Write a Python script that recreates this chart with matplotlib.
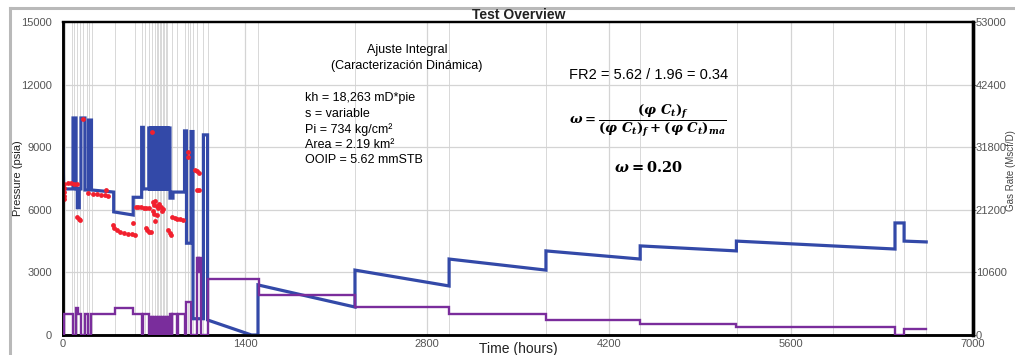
import matplotlib
matplotlib.use("Agg")
import matplotlib.pyplot as plt
from matplotlib.lines import Line2D

plt.rcParams['font.family'] = ['Liberation Sans', 'DejaVu Sans']
plt.rcParams['mathtext.fontset'] = 'custom'
plt.rcParams['mathtext.rm'] = 'DejaVu Serif:bold'
plt.rcParams['mathtext.it'] = 'DejaVu Serif:italic:bold'
plt.rcParams['mathtext.bf'] = 'DejaVu Serif:bold'

# ---- data -------------------------------------------------------------
# Pressure history: (time h, pressure psia)
pressure = [
    (0, 8950), (5, 7000), (77, 7000), (77, 10400), (100, 10400), (100, 7000),
    (110, 7000), (110, 6100), (125, 6100), (125, 7000), (138, 7000), (138, 10400),
    (169, 10400), (169, 6950), (196, 6950), (196, 10300), (219, 10300), (219, 6950),
    (390, 6850), (390, 5900), (540, 5750), (540, 6600), (605, 6600), (605, 9950),
    (618, 9950), (618, 7000), (660, 7000),
    (660, 9920), (667, 9920), (667, 7000), (675, 7000), (675, 9920), (683, 9920),
    (683, 7000), (690, 7000), (690, 9920), (698, 9920), (698, 7000), (705, 7000),
    (705, 9920), (713, 9920), (713, 7000), (720, 7000), (720, 9920), (728, 9920),
    (728, 7000), (735, 7000), (735, 9920), (743, 9920), (743, 7000), (751, 7000),
    (751, 9920), (759, 9920), (759, 7000), (767, 7000), (767, 9920), (775, 9920),
    (775, 7000), (783, 7000), (783, 9920), (791, 9920), (791, 7000), (799, 7000),
    (799, 9920), (807, 9920), (807, 7000), (815, 7000), (815, 9920), (823, 9920),
    (823, 6560), (846, 6560), (846, 6850), (935, 6850), (935, 9780), (950, 9780),
    (950, 4400), (985, 4400), (985, 9750), (1000, 9750), (1000, 780), (1080, 780),
    (1080, 9590), (1112, 9590), (1112, 720), (1450, 0), (1500, 0), (1500, 2400),
    (2246, 1340), (2246, 3110), (2970, 2350), (2970, 3640), (3715, 3110),
    (3715, 4030), (4440, 3640), (4440, 4270), (5180, 4030), (5180, 4500),
    (6400, 4120), (6400, 5370), (6470, 5370), (6470, 4500), (6640, 4460),
]

# Rate history (right axis): (time h, rate)
rate = [
    (0, 0), (5, 0), (5, 3500), (77, 3500), (77, 0), (100, 0), (100, 4560),
    (115, 4560), (115, 3500), (138, 3500), (138, 0), (169, 0), (169, 3500),
    (196, 3500), (196, 0), (219, 0), (219, 3500), (400, 3500), (400, 4600),
    (540, 4600), (540, 3500), (605, 3500), (605, 0), (618, 0), (618, 3500),
    (660, 3500),
    (660, 0), (667, 0), (667, 3050), (675, 3050), (675, 0), (683, 0), (683, 3050),
    (690, 3050), (690, 0), (698, 0), (698, 3050), (705, 3050), (705, 0), (713, 0),
    (713, 3050), (720, 3050), (720, 0), (728, 0), (728, 3050), (735, 3050),
    (735, 0), (743, 0), (743, 3050), (751, 3050), (751, 0), (759, 0), (759, 3050),
    (767, 3050), (767, 0), (775, 0), (775, 3050), (783, 3050), (783, 0), (791, 0),
    (791, 3050), (799, 3050), (799, 0), (807, 0), (807, 3050), (815, 3050),
    (815, 0), (823, 0), (823, 3500),
    (838, 3500), (838, 0), (842, 0), (842, 3500), (877, 3500), (877, 0), (881, 0),
    (881, 3500), (935, 3500), (935, 0), (950, 0), (950, 5580), (985, 5580),
    (985, 0), (1030, 0), (1030, 13070), (1036, 13070), (1036, 10600),
    (1042, 10600), (1042, 13070), (1048, 13070), (1048, 10600), (1054, 10600),
    (1054, 13070), (1060, 13070), (1060, 0), (1112, 0), (1112, 9470),
    (1510, 9470), (1510, 6780), (2246, 6780), (2246, 4730), (2970, 4730),
    (2970, 3530), (3715, 3530), (3715, 2540), (4440, 2540), (4440, 1870),
    (5180, 1870), (5180, 1340), (6400, 1340), (6400, 0), (6470, 0), (6470, 1020),
    (6640, 1020),
]

# Measured gauge pressures: (time h, pressure psia)
gauge = [
    (4, 7250), (6, 7050), (8, 6850), (9, 6650), (10, 6500), (40, 7280), (60, 7280),
    (85, 7260), (110, 7250), (110, 5650), (120, 5560), (130, 5500), (195, 6800),
    (230, 6780), (260, 6760), (290, 6720), (320, 6700), (345, 6650), (330, 6950),
    (385, 5250), (395, 5120), (415, 5030), (440, 4960), (470, 4900), (500, 4860),
    (530, 4830), (550, 4800), (540, 5370), (560, 6150), (580, 6130), (600, 6120),
    (620, 6100), (640, 6090), (660, 6100), (635, 5150), (645, 5050), (660, 4950),
    (680, 4940), (690, 6350), (700, 6250), (710, 6400), (720, 6200), (730, 6100),
    (740, 6300), (750, 6150), (760, 5950), (770, 6050), (700, 5800), (720, 5750),
    (690, 5950), (708, 5470), (810, 5050), (820, 4900), (830, 4800), (840, 5650),
    (860, 5600), (880, 5560), (900, 5540), (920, 5500), (960, 8770), (965, 8550),
    (1015, 7900), (1030, 7850), (1045, 7780), (1030, 6950), (1045, 6930),
    (155, 10350), (685, 9750),
]

# Flow-period change times (hours)
events = [15, 70, 85, 108, 130, 155, 185, 200, 223, 400, 555, 605, 630, 660, 685,
          708, 720, 732, 744, 756, 768, 780, 792, 803, 838, 877,
          938, 962, 977, 1000, 1030, 1077, 1115, 1500, 2246, 2970, 3715, 4440,
          5185, 5923, 6400, 6470, 6640]

x_ticks = [0, 1400, 2800, 4200, 5600, 7000]
p_ticks = [0, 3000, 6000, 9000, 12000, 15000]
q_ticks = [0, 10600, 21200, 31800, 42400, 53000]

pres_t, pres_p = zip(*pressure)
rate_t, rate_q = zip(*rate)
gauge_t, gauge_p = zip(*gauge)

# ---- figure -----------------------------------------------------------
fig = plt.figure(figsize=(10.15, 3.55), dpi=100)
ax = fig.add_axes([63 / 1015, 1 - 335 / 355, 910 / 1015, 313 / 355])
ax2 = ax.twinx()

ax.set_xlim(0, 7000)
ax.set_ylim(0, 15000)
ax2.set_ylim(0, 53000)

grid_c = '#d4d4d4'
for y in p_ticks[1:-1]:
    ax.axhline(y, color=grid_c, lw=0.9, zorder=0)
for x in x_ticks[1:-1]:
    ax.axvline(x, color=grid_c, lw=0.9, zorder=0)
for x in events:
    ax.axvline(x, color='#d2d2d2', lw=0.6, zorder=0)

ax.plot(pres_t, pres_p, color='#3349a8', lw=2.3, solid_joinstyle='miter', zorder=3)
ax.scatter(gauge_t, gauge_p, s=12, color='#f2202e', lw=0, zorder=4)
ax2.plot(rate_t, rate_q, color='#7a2d9c', lw=1.7, solid_joinstyle='miter', zorder=3)

tick_c = '#555555'
ax.set_xticks(x_ticks)
ax.set_yticks(p_ticks)
ax2.set_yticks(q_ticks)
ax.tick_params(axis='x', length=0, pad=3, labelsize=8, labelcolor=tick_c)
ax.tick_params(axis='y', length=0, pad=8, labelsize=8, labelcolor=tick_c)
ax2.tick_params(axis='y', length=2, pad=0, labelsize=8, labelcolor=tick_c, color=tick_c)

for a in (ax, ax2):
    for s in a.spines.values():
        s.set_color('black')
    a.spines['left'].set_linewidth(1.8)
    a.spines['bottom'].set_linewidth(1.8)
    a.spines['top'].set_linewidth(1.6)
    a.spines['right'].set_linewidth(2.4)

ax.set_xlabel('Time (hours)', fontsize=10, color='#222222')
ax.xaxis.set_label_coords(0.5, -0.022)
ax.set_ylabel('Pressure (psia)', fontsize=8, color='#222222')
ax.yaxis.set_label_coords(-0.044, 0.5)
fig.text(1010.5 / 1015, 0.52, 'Gas Rate (Mscf/D)', rotation=90, fontsize=7,
         color='#444444', ha='center', va='center')

fig.text(519 / 1015, 1 - 15 / 355, 'Test Overview', fontsize=10, weight='bold',
         ha='center', va='center', color='#222222')

# outer frame
fig.add_artist(Line2D([10 / 1015, 1], [1 - 8 / 355] * 2, color='#b9b9b9', lw=2.2))
fig.add_artist(Line2D([10 / 1015] * 2, [0, 1 - 8 / 355], color='#b9b9b9', lw=2.2))


def px(x, y):
    return x / 1015, 1 - y / 355


fig.text(*px(407, 50), 'Ajuste Integral', fontsize=9, ha='center', va='center')
fig.text(*px(407, 66), '(Caracterización Dinámica)', fontsize=9, ha='center', va='center')
info = ['kh = 18,263 mD*pie', 's = variable', 'Pi = 734 kg/cm²',
        'Area = 2.19 km²', 'OOIP = 5.62 mmSTB']
for i, line in enumerate(info):
    fig.text(*px(305, 98 + i * 15.6), line, fontsize=9, ha='left', va='center')

fig.text(*px(649, 75), 'FR2 = 5.62 / 1.96 = 0.34', fontsize=10.5, ha='center',
         va='center')
fig.text(*px(648, 121),
         r'$\omega = \dfrac{(\varphi\ C_t)_f}{(\varphi\ C_t)_f+(\varphi\ C_t)_{ma}}$',
         fontsize=9.5, ha='center', va='center')
fig.text(*px(648, 168), r'$\omega = 0.20$', fontsize=10.5, ha='center', va='center')

fig.savefig('out.png', dpi=100)
